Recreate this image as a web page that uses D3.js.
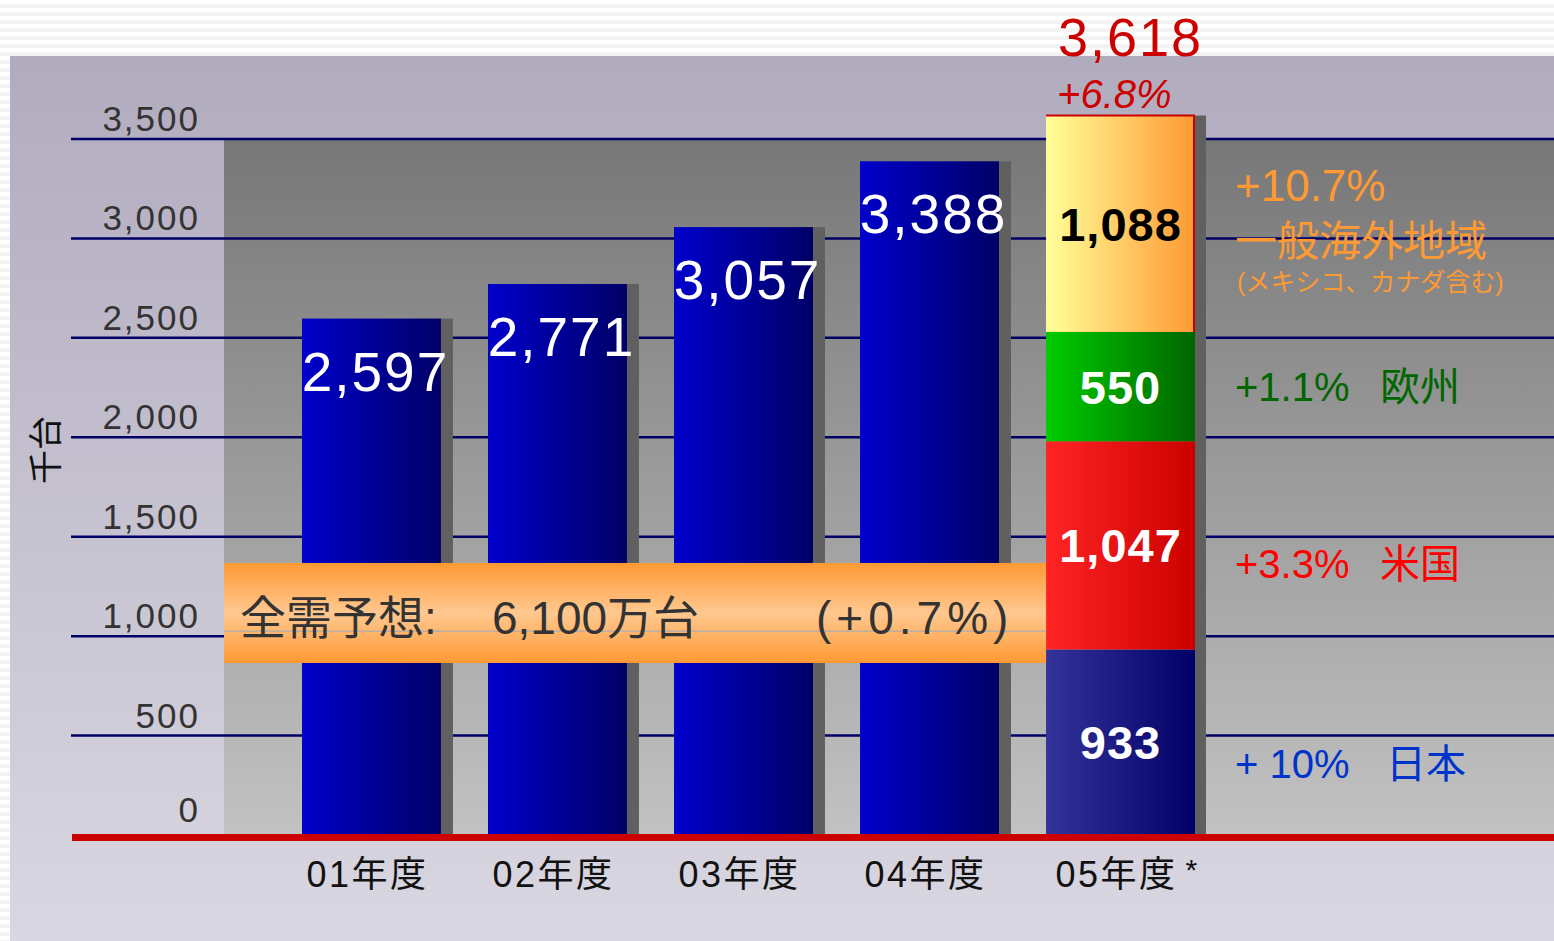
<!DOCTYPE html>
<html>
<head>
<meta charset="UTF-8">
<title>四輪車 全需予想</title>
<script src="https://cdn.jsdelivr.net/npm/d3@7"></script>
<style>
  body { margin: 0; background: #fafafa; overflow: hidden; }
  text { font-family: 'Liberation Sans', Arial, 'Noto Sans CJK JP', sans-serif; }
</style>
</head>
<body>
<div id="chart"></div>
<script>
// data (thousand units)
const years = ['01年度', '02年度', '03年度', '04年度', '05年度'];
const totals = [2597, 2771, 3057, 3388];
const regions = ['日本', '米国', '欧州', '一般海外地域'];
const regionValues = [933, 1047, 550, 1088];
const regionGrowth = ['+ 10%', '+3.3%', '+1.1%', '+10.7%'];
const regionNote = '(メキシコ、カナダ含む)';
const forecastTotal = 3618;
const forecastGrowth = '+6.8%';
const yTicks = [0, 500, 1000, 1500, 2000, 2500, 3000, 3500];
const yTickLabels = ['0', '500', '1,000', '1,500', '2,000', '2,500', '3,000', '3,500'];
const marketText = ['全需予想:', '6,100万台', '(+0.7%)'];

const W = 1554, H = 941;
const plotLeft = 224, plotTop = 139, baseY = 835;

const svg = d3.select('#chart').append('svg')
  .attr('width', W).attr('height', H);
const defs = svg.append('defs');

function hGrad(id, a, b) {
  const g = defs.append('linearGradient').attr('id', id)
    .attr('x1', 0).attr('x2', 1).attr('y1', 0).attr('y2', 0);
  g.append('stop').attr('offset', 0).attr('stop-color', a);
  g.append('stop').attr('offset', 1).attr('stop-color', b);
}
function vGrad(id, stops) {
  const g = defs.append('linearGradient').attr('id', id)
    .attr('x1', 0).attr('x2', 0).attr('y1', 0).attr('y2', 1);
  stops.forEach(s => g.append('stop').attr('offset', s[0]).attr('stop-color', s[1]));
}
hGrad('bar', '#0000cc', '#000066');
const segColors = [['#333399', '#000066'], ['#ff2424', '#cc0000'], ['#00cc00', '#006600'], ['#ffff99', '#ff9933']];
segColors.forEach((c, i) => hGrad('seg' + i, c[0], c[1]));
vGrad('panel', [[0, '#b1abbe'], [1, '#d9d7e1']]);
vGrad('plot', [[0, '#777777'], [1, '#c2c2c2']]);
vGrad('band', [[0, '#ff9933'], [0.5, '#ffc890'], [1, '#ff9933']]);

// striped page background
const pat = defs.append('pattern').attr('id', 'stripes')
  .attr('width', 8).attr('height', 8).attr('patternUnits', 'userSpaceOnUse');
pat.append('rect').attr('width', 8).attr('height', 8).attr('fill', '#ffffff');
pat.append('rect').attr('y', 4).attr('width', 8).attr('height', 4).attr('fill', '#f3f3f3');
svg.append('rect').attr('width', W).attr('height', H).attr('fill', 'url(#stripes)');

svg.append('rect').attr('x', 10).attr('y', 56).attr('width', W - 10).attr('height', H - 56)
  .attr('fill', 'url(#panel)');

const x = d3.scaleBand().domain(years).range([302, 1185]).paddingInner(0.253);
const y = d3.scaleLinear().domain([0, 3500]).range([baseY, plotTop]);
const bw = x.bandwidth();
const shadowW = 12;

svg.append('rect').attr('x', plotLeft).attr('y', plotTop)
  .attr('width', W - plotLeft).attr('height', baseY - plotTop)
  .attr('fill', 'url(#plot)');

// gridlines + tick labels
svg.append('g').selectAll('line').data(yTicks.filter(d => d > 0)).join('line')
  .attr('x1', 71).attr('x2', W)
  .attr('y1', d => y(d)).attr('y2', d => y(d))
  .attr('stroke', '#000066').attr('stroke-width', 2.5);

svg.append('g').selectAll('text').data(yTicks).join('text')
  .attr('x', 200).attr('y', d => y(d) - (d === 0 ? 13 : 8))
  .attr('text-anchor', 'end')
  .attr('font-size', 35).attr('letter-spacing', 2)
  .attr('fill', '#333333')
  .text((d, i) => yTickLabels[i]);

svg.append('text')
  .attr('transform', 'translate(58,450) rotate(-90)')
  .attr('text-anchor', 'middle')
  .attr('font-size', 34).attr('fill', '#111')
  .text('千台');

// history bars
const hist = years.slice(0, totals.length).map((yr, i) => ({ yr, v: totals[i] }));
const hg = svg.append('g');
hg.selectAll('.shadow').data(hist).join('rect').attr('class', 'shadow')
  .attr('x', d => x(d.yr) + bw).attr('y', d => y(d.v))
  .attr('width', shadowW).attr('height', d => baseY - y(d.v))
  .attr('fill', '#606060');
hg.selectAll('.bar').data(hist).join('rect').attr('class', 'bar')
  .attr('x', d => x(d.yr)).attr('y', d => y(d.v))
  .attr('width', bw).attr('height', d => baseY - y(d.v))
  .attr('fill', 'url(#bar)');
hg.selectAll('.val').data(hist).join('text').attr('class', 'val')
  .attr('x', d => x(d.yr) + bw / 2 + 4).attr('y', d => y(d.v) + 72)
  .attr('text-anchor', 'middle')
  .attr('font-size', 55).attr('letter-spacing', 2)
  .attr('fill', '#ffffff')
  .text(d => d3.format(',')(d.v));

// forecast stacked bar
const fx = x('05年度');
const fw = bw + 10;
let acc = 0;
const segs = regionValues.map((v, i) => {
  const s = { i, name: regions[i], v, y0: acc, y1: acc + v };
  acc += v;
  return s;
});
const stackTop = d3.max(segs, d => d.y1);
svg.append('rect').attr('x', fx + fw).attr('y', y(stackTop))
  .attr('width', shadowW - 1).attr('height', baseY - y(stackTop)).attr('fill', '#606060');
const sg = svg.append('g');
sg.selectAll('rect').data(segs).join('rect')
  .attr('x', fx).attr('y', d => y(d.y1))
  .attr('width', fw).attr('height', d => y(d.y0) - y(d.y1))
  .attr('fill', d => `url(#seg${d.i})`);
// red outline on top segment
const topSeg = segs[segs.length - 1];
sg.append('path')
  .attr('d', `M${fx},${y(topSeg.y1)} H${fx + fw - 1} V${y(topSeg.y0)}`)
  .attr('fill', 'none').attr('stroke', '#cc0000').attr('stroke-width', 2);
sg.selectAll('text').data(segs).join('text')
  .attr('x', fx + fw / 2).attr('y', d => y((d.y0 + d.y1) / 2) + 17)
  .attr('text-anchor', 'middle')
  .attr('font-size', 47).attr('font-weight', 'bold').attr('letter-spacing', 1)
  .attr('fill', d => d.i === 3 ? '#000000' : '#ffffff')
  .text(d => d3.format(',')(d.v));

svg.append('text')
  .attr('x', fx + fw / 2 + 10).attr('y', y(stackTop) - 60)
  .attr('text-anchor', 'middle')
  .attr('font-size', 54).attr('letter-spacing', 2).attr('fill', '#cc0000')
  .text(d3.format(',')(forecastTotal));
svg.append('text')
  .attr('x', fx + 11).attr('y', y(stackTop) - 8)
  .attr('font-size', 40).attr('font-style', 'italic').attr('fill', '#cc0000')
  .text(forecastGrowth);

// regional growth labels on the right
const lx = fx + fw + shadowW + 28;
const nx = lx + 145;
const labelColors = ['#0033cc', '#ff0000', '#006600', '#ff9933'];
const rg = svg.append('g');
segs.slice(0, 3).forEach((d, i) => {
  const my = y((d.y0 + d.y1) / 2);
  const dy = [36, 33, 14][i];
  rg.append('text').attr('x', lx).attr('y', my + dy)
    .attr('font-size', 40).attr('fill', labelColors[i]).text(regionGrowth[i]);
  rg.append('text').attr('x', nx + (i === 0 ? 6 : 0)).attr('y', my + dy)
    .attr('font-size', 40).attr('fill', labelColors[i]).text(d.name);
});
{
  const my = y((topSeg.y0 + topSeg.y1) / 2);
  rg.append('text').attr('x', lx).attr('y', my - 23)
    .attr('font-size', 44).attr('fill', labelColors[3]).text(regionGrowth[3]);
  rg.append('text').attr('x', lx).attr('y', my + 32)
    .attr('font-size', 42).attr('fill', labelColors[3]).text(topSeg.name);
  rg.append('text').attr('x', lx + 2).attr('y', my + 67)
    .attr('font-size', 25).attr('fill', labelColors[3]).text(regionNote);
}

// baseline
svg.append('line').attr('x1', 72).attr('x2', W)
  .attr('y1', baseY + 2.5).attr('y2', baseY + 2.5)
  .attr('stroke', '#cc0000').attr('stroke-width', 7);

// category labels
svg.append('g').selectAll('text').data(years).join('text')
  .attr('x', d => x(d) + (d === '05年度' ? fw : bw) / 2 - 4)
  .attr('y', 887)
  .attr('text-anchor', 'middle')
  .attr('font-size', 36).attr('letter-spacing', 2.5).attr('fill', '#111')
  .text(d => d);
svg.append('text')
  .attr('x', fx + fw / 2 + 65).attr('y', 880)
  .attr('font-size', 30).attr('fill', '#111').text('*');

// total market forecast band
const bandTop = y(1368), bandBot = y(865);
const band = svg.append('g');
band.append('rect').attr('x', plotLeft).attr('y', bandTop)
  .attr('width', fx - plotLeft).attr('height', bandBot - bandTop)
  .attr('fill', 'url(#band)');
band.append('line').attr('x1', plotLeft).attr('x2', fx)
  .attr('y1', y(1000) - 5).attr('y2', y(1000) - 5)
  .attr('stroke', '#9aaabb').attr('stroke-width', 1);
[16, 268, 592].forEach((dx, i) => {
  band.append('text').attr('x', plotLeft + dx).attr('y', bandBot - 29)
    .attr('font-size', 46).attr('fill', '#333333')
    .attr('letter-spacing', i === 2 ? 5 : 0)
    .text(marketText[i]);
});
</script>
</body>
</html>
